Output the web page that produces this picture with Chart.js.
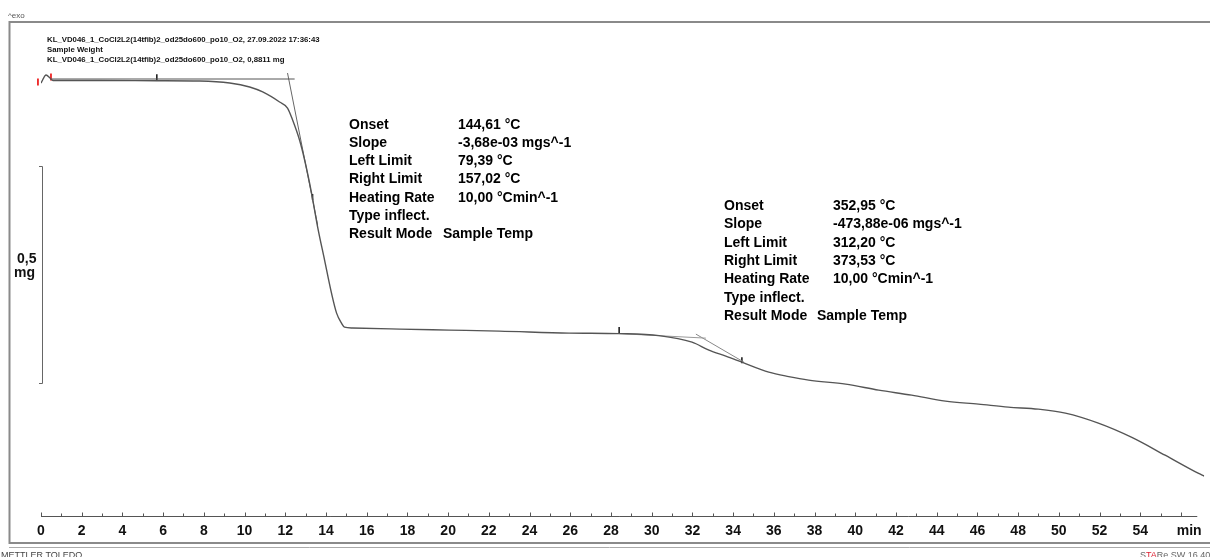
<!DOCTYPE html>
<html>
<head>
<meta charset="utf-8">
<script src="https://cdn.jsdelivr.net/npm/chart.js@4.4.0/dist/chart.umd.min.js"></script>
<style>
  html, body { margin: 0; padding: 0; background: #fff; }
  #wrap { width: 1210px; height: 557px; }
</style>
</head>
<body>
<div id="wrap"><canvas id="tgaChart" width="1210" height="557"></canvas></div>
<script>
// TGA curve, time in min, sample weight in mg
const timeMin = [0, 0.25, 0.44, 0.59, 2.89, 5.69, 7.8, 9.27, 10.25, 10.89, 11.72, 12.11, 12.36, 12.7,
  12.95, 13.29, 13.59, 13.93, 14.27, 14.52, 14.76, 14.91, 15.3, 17.61, 20.06, 22.51, 25.94, 28.4,
  30.36, 31.98, 32.81, 33.64, 34.43, 35.75, 36.73, 37.71, 39.53, 41.15, 42.77, 44.43, 46.05,
  47.52, 48.99, 50.32, 51.94, 53.56, 55.22, 56.84, 57.14];
const weightMg = [0.8742, 0.8926, 0.8857, 0.8800, 0.8800, 0.8795, 0.8788, 0.8742, 0.865, 0.8535,
  0.8304, 0.8166, 0.789, 0.7429, 0.6968, 0.6207, 0.5424, 0.4664, 0.3903, 0.3442, 0.3212, 0.3120,
  0.3100, 0.3074, 0.3051, 0.3028, 0.2982, 0.2970, 0.2925, 0.2774, 0.259, 0.2452, 0.2313, 0.2083,
  0.1980, 0.1899, 0.1806, 0.1668, 0.1553, 0.1415, 0.1346, 0.1276, 0.1230, 0.1138, 0.0908, 0.0585,
  0.0170, -0.0244, -0.0313];

// tangents used for the onset evaluation
const tangent1Base = [[0.54, 0.8834], [12.46, 0.8834]];
const tangent1Steep = [[12.11, 0.8972], [13.59, 0.547]];
const tangent2Base = [[28.4, 0.2970], [32.66, 0.2866]];
const tangent2Steep = [[32.17, 0.2959], [34.53, 0.2313]];
const limitMarks = [[5.69, 0.8875], [13.34, 0.6115], [28.4, 0.3051], [34.43, 0.2359]];
const startMarks = [[-0.15, 0.8765], [0.49, 0.8880]];

const tickMinutes = [0, 2, 4, 6, 8, 10, 12, 14, 16, 18, 20, 22, 24, 26, 28, 30, 32, 34, 36, 38, 40,
  42, 44, 46, 48, 50, 52, 54];
const unitTick = 56.4;
const scaleBarTop = 0.683;
const scaleBarSpan = 0.5;

const headerLines = [
  "KL_VD046_1_CoCl2L2(14tfib)2_od25do600_po10_O2, 27.09.2022 17:36:43",
  "Sample Weight",
  "KL_VD046_1_CoCl2L2(14tfib)2_od25do600_po10_O2, 0,8811 mg",
];
const result1 = [
  ["Onset", "144,61 °C"],
  ["Slope", "-3,68e-03 mgs^-1"],
  ["Left Limit", "79,39 °C"],
  ["Right Limit", "157,02 °C"],
  ["Heating Rate", "10,00 °Cmin^-1"],
  ["Type inflect.", ""],
];
const result2 = [
  ["Onset", "352,95 °C"],
  ["Slope", "-473,88e-06 mgs^-1"],
  ["Left Limit", "312,20 °C"],
  ["Right Limit", "373,53 °C"],
  ["Heating Rate", "10,00 °Cmin^-1"],
  ["Type inflect.", ""],
];

const pts = (arr) => arr.map(([x, y]) => ({ x, y }));
const FONT = '"Liberation Sans", Arial, sans-serif';

function drawResult(ctx, rows, x, valX, modeX, y0) {
  ctx.font = "bold 14px " + FONT;
  ctx.fillStyle = "#000";
  rows.forEach(([k, v], i) => {
    ctx.fillText(k, x, y0 + i * 18.3);
    if (v) ctx.fillText(v, valX, y0 + i * 18.3);
  });
  const yl = y0 + rows.length * 18.3;
  ctx.fillText("Result Mode", x, yl);
  ctx.fillText("Sample Temp", modeX, yl);
}

const decor = {
  id: "decor",
  afterDraw(chart) {
    const { ctx } = chart;
    const xs = chart.scales.x;
    const ys = chart.scales.y;
    ctx.save();

    // frame
    ctx.strokeStyle = "#8a8a8a";
    ctx.lineWidth = 2;
    ctx.beginPath();
    ctx.moveTo(1210, 22);
    ctx.lineTo(9.5, 22);
    ctx.lineTo(9.5, 543);
    ctx.lineTo(1210, 543);
    ctx.stroke();
    ctx.lineWidth = 1;
    ctx.strokeStyle = "#aaa";
    ctx.beginPath();
    ctx.moveTo(9, 547.5);
    ctx.lineTo(1210, 547.5);
    ctx.stroke();

    // ^exo
    ctx.fillStyle = "#555";
    ctx.font = "8px " + FONT;
    ctx.fillText("^exo", 8, 18);

    // header
    ctx.fillStyle = "#111";
    ctx.font = "bold 7.8px " + FONT;
    headerLines.forEach((t, i) => ctx.fillText(t, 47, 42 + i * 9.8));

    // scale bar
    const yTop = Math.round(ys.getPixelForValue(scaleBarTop)) + 0.5;
    const yBot = Math.round(ys.getPixelForValue(scaleBarTop - scaleBarSpan)) + 0.5;
    ctx.strokeStyle = "#666";
    ctx.lineWidth = 1;
    ctx.beginPath();
    ctx.moveTo(39, yTop);
    ctx.lineTo(42.5, yTop);
    ctx.lineTo(42.5, yBot);
    ctx.lineTo(39, yBot);
    ctx.stroke();
    ctx.fillStyle = "#111";
    ctx.font = "bold 14px " + FONT;
    ctx.fillText("0,5", 17, 263);
    ctx.fillText("mg", 14, 277);

    // x axis line with ticks pointing up
    const yAx = Math.round(chart.chartArea.bottom) + 0.5;
    ctx.strokeStyle = "#555";
    ctx.beginPath();
    ctx.moveTo(xs.getPixelForValue(0), yAx);
    ctx.lineTo(xs.getPixelForValue(56.8), yAx);
    for (let m = 0; m <= 56; m++) {
      const px = Math.round(xs.getPixelForValue(m)) + 0.5;
      ctx.moveTo(px, yAx);
      ctx.lineTo(px, yAx - (m % 2 === 0 ? 4 : 3));
    }
    ctx.stroke();

    // evaluation results
    drawResult(ctx, result1, 349, 458, 443, 128.5);
    drawResult(ctx, result2, 724, 833, 817, 210);

    // footer
    ctx.font = "9px " + FONT;
    ctx.fillStyle = "#444";
    ctx.fillText("METTLER TOLEDO", 1, 558);
    let fx = 1140;
    [["S", "#666"], ["TA", "#d23"], ["R", "#666"], ["e SW 16.40", "#666"]].forEach(([t, c]) => {
      ctx.fillStyle = c;
      ctx.fillText(t, fx, 558);
      fx += ctx.measureText(t).width;
    });
    ctx.restore();
  },
};

const ctxTga = document.getElementById("tgaChart").getContext("2d");
const tgaChart = new Chart(ctxTga, {
  type: "line",
  data: {
    datasets: [
      {
        label: "Sample Weight",
        data: timeMin.map((t, i) => ({ x: t, y: weightMg[i] })),
        borderColor: "#555",
        borderWidth: 1.4,
        pointRadius: 0,
        cubicInterpolationMode: "monotone",
      },
      { data: pts(tangent1Base), borderColor: "#555", borderWidth: 1, pointRadius: 0 },
      { data: pts(tangent1Steep), borderColor: "#666", borderWidth: 1, pointRadius: 0 },
      { data: pts(tangent2Base), borderColor: "#999", borderWidth: 1, pointRadius: 0 },
      { data: pts(tangent2Steep), borderColor: "#888", borderWidth: 1, pointRadius: 0 },
      {
        type: "scatter",
        data: pts(limitMarks),
        pointStyle: "line",
        rotation: 90,
        pointRadius: 3,
        borderColor: "#111",
        borderWidth: 1.5,
      },
      {
        type: "scatter",
        data: pts(startMarks),
        pointStyle: "line",
        rotation: 90,
        pointRadius: 3.5,
        borderColor: "#e22",
        borderWidth: 1.8,
        clip: false,
      },
    ],
  },
  options: {
    responsive: false,
    animation: false,
    layout: { padding: { left: 41, right: 4, top: 22, bottom: 10 } },
    plugins: { legend: { display: false }, tooltip: { enabled: false } },
    scales: {
      x: {
        type: "linear",
        min: 0,
        max: 57.14,
        grid: { display: false, drawTicks: false },
        border: { display: false },
        afterBuildTicks: (scale) => {
          scale.ticks = tickMinutes.concat([unitTick]).map((v) => ({ value: v }));
        },
        ticks: {
          autoSkip: false,
          maxRotation: 0,
          padding: 7,
          color: "#111",
          font: { family: FONT, size: 14, weight: "bold" },
          callback: (v) => (v === unitTick ? "min" : v),
        },
      },
      y: {
        display: false,
        min: -0.1235,
        max: 1.0147,
      },
    },
  },
  plugins: [decor],
});
</script>
</body>
</html>
